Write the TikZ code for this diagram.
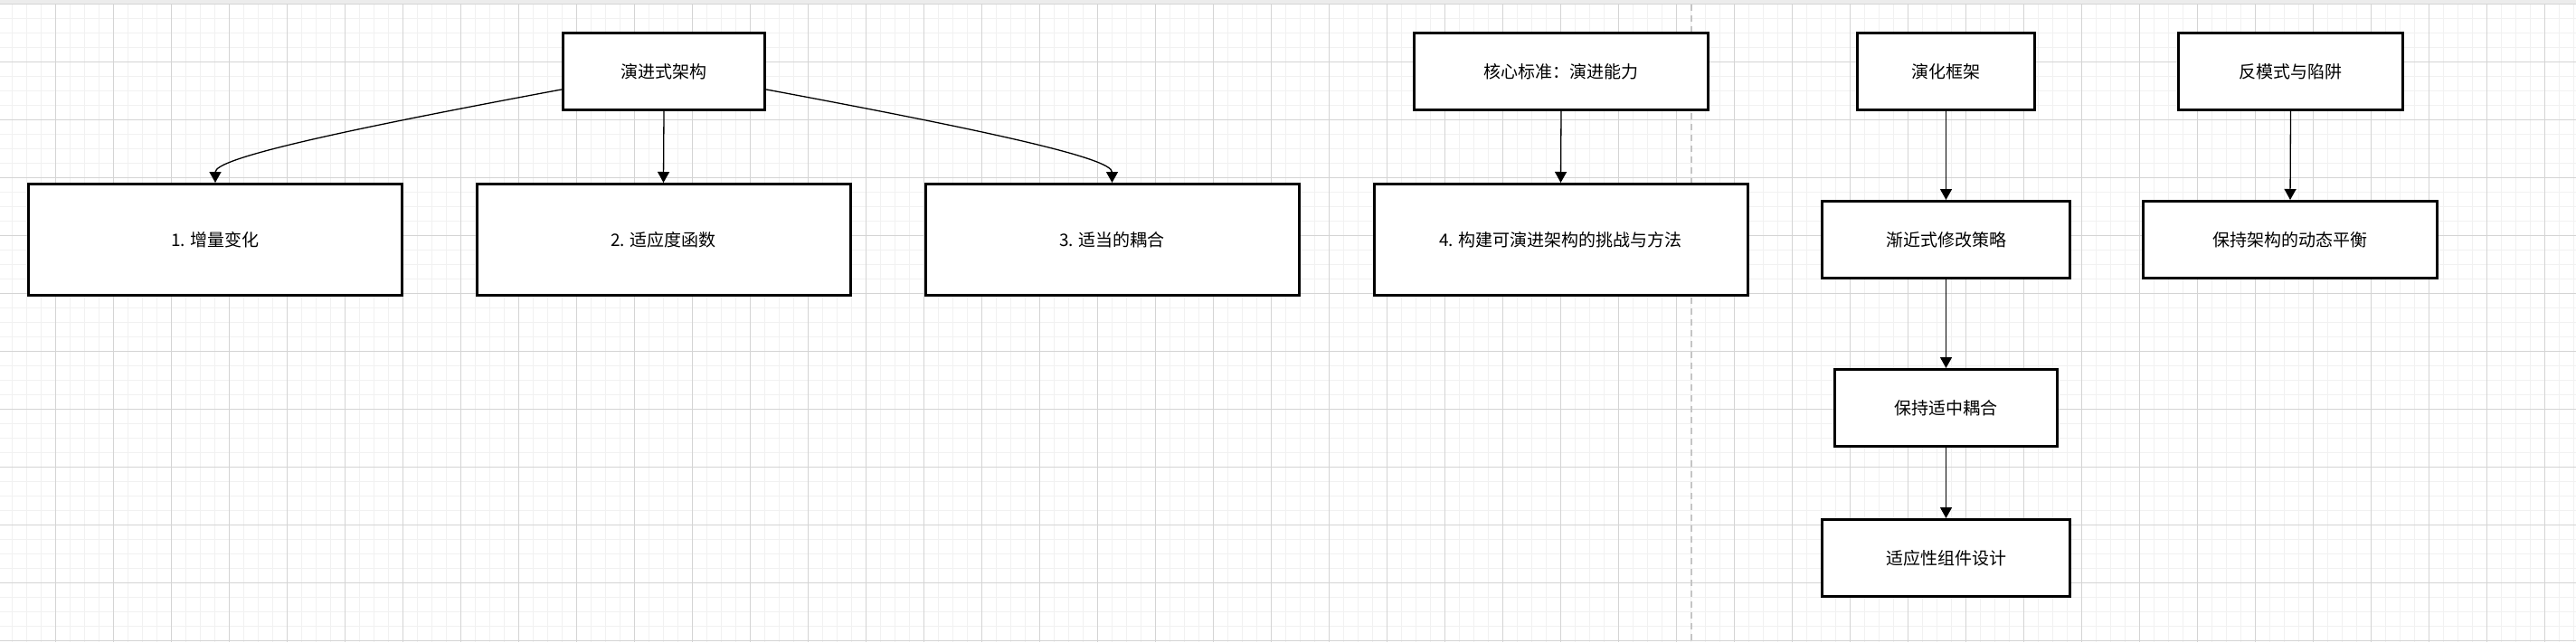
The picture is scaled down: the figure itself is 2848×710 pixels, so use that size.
\documentclass[tikz,border=0pt]{standalone}
\usepackage{fontspec}
\setmainfont{Noto Sans CJK SC}
\usepackage{xcolor}
\definecolor{gridmajor}{RGB}{212,212,212}
\definecolor{gridminor}{RGB}{241,241,241}
\definecolor{divider}{RGB}{196,196,196}
\definecolor{topband}{RGB}{236,236,236}
\usepackage{tikz}
\usetikzlibrary{
    arrows.meta,
    positioning
}

\tikzset{
    card/.style={draw=black, line width=3pt, fill=white, inner sep=0pt,
        minimum height=85pt, font=\fontsize{19}{23}\selectfont},
    bigcard/.style={card, minimum width=413pt, minimum height=123pt},
    link/.style={line width=1.3pt, -{Triangle[length=12pt, width=13pt]}}
}

\begin{document}
\begin{tikzpicture}[x=1pt, y=-1pt]
        \useasboundingbox (0,0) rectangle (2848,710);

        % Grille de fond
        \fill[white] (0,0) rectangle (2848,710);
        \fill[topband] (0,0) rectangle (2848,4);
        \foreach \i in {0,...,177}
            \draw[gridminor, line width=1.2pt] (13.4+16*\i,4) -- (13.4+16*\i,710);
        \foreach \j in {1,...,44}
            \draw[gridminor, line width=1.2pt] (0,4.3+16*\j) -- (2848,4.3+16*\j);
        \foreach \i in {0,...,43}
            \draw[gridmajor, line width=1pt] (61.4+64*\i,4) -- (61.4+64*\i,710);
        \foreach \j in {0,...,11}
            \draw[gridmajor, line width=1pt] (0,4.3+64*\j) -- (2848,4.3+64*\j);

        % Separateur
        \draw[divider, line width=2pt, dash pattern=on 7pt off 5pt] (1869.5,5) -- (1869.5,710);

        % Groupe gauche
        \node[card, minimum width=223pt] (arch) at (734,79) {演进式架构};
        \node[bigcard] (incr) at (238,265) {1. 增量变化};
        \node[bigcard] (fitness) at (733.5,265) {2. 适应度函数};
        \node[bigcard] (coupling) at (1229.5,265) {3. 适当的耦合};

        \node[card, minimum width=325pt] (core) at (1726,79) {核心标准：演进能力};
        \node[bigcard] (challenge) at (1725.5,265) {4. 构建可演进架构的挑战与方法};

        % Groupe droite
        \node[card, minimum width=196pt] (frame) at (2151.5,79) {演化框架};
        \node[card, minimum width=274pt] (strategy) at (2151.5,265) {渐近式修改策略};
        \node[card, minimum width=246pt] (moderate) at (2151.5,451) {保持适中耦合};
        \node[card, minimum width=274pt] (adaptive) at (2151.5,617) {适应性组件设计};

        \node[card, minimum width=248pt] (anti) at (2532.5,79) {反模式与陷阱};
        \node[card, minimum width=325pt] (balance) at (2532,265) {保持架构的动态平衡};

        % Liens
        \draw[link] (arch.190) .. controls +(-250,46.6) and +(0,-27) .. (incr.north);
        \draw[link] (arch.south) -- (fitness.north);
        \draw[link] (arch.-10) .. controls +(250,46.6) and +(0,-27) .. (coupling.north);
        \draw[link] (core.south) -- (challenge.north);
        \draw[link] (frame.south) -- (strategy.north);
        \draw[link] (strategy.south) -- (moderate.north);
        \draw[link] (moderate.south) -- (adaptive.north);
        \draw[link] (anti.south) -- (balance.north);
    \end{tikzpicture}
\end{document}
